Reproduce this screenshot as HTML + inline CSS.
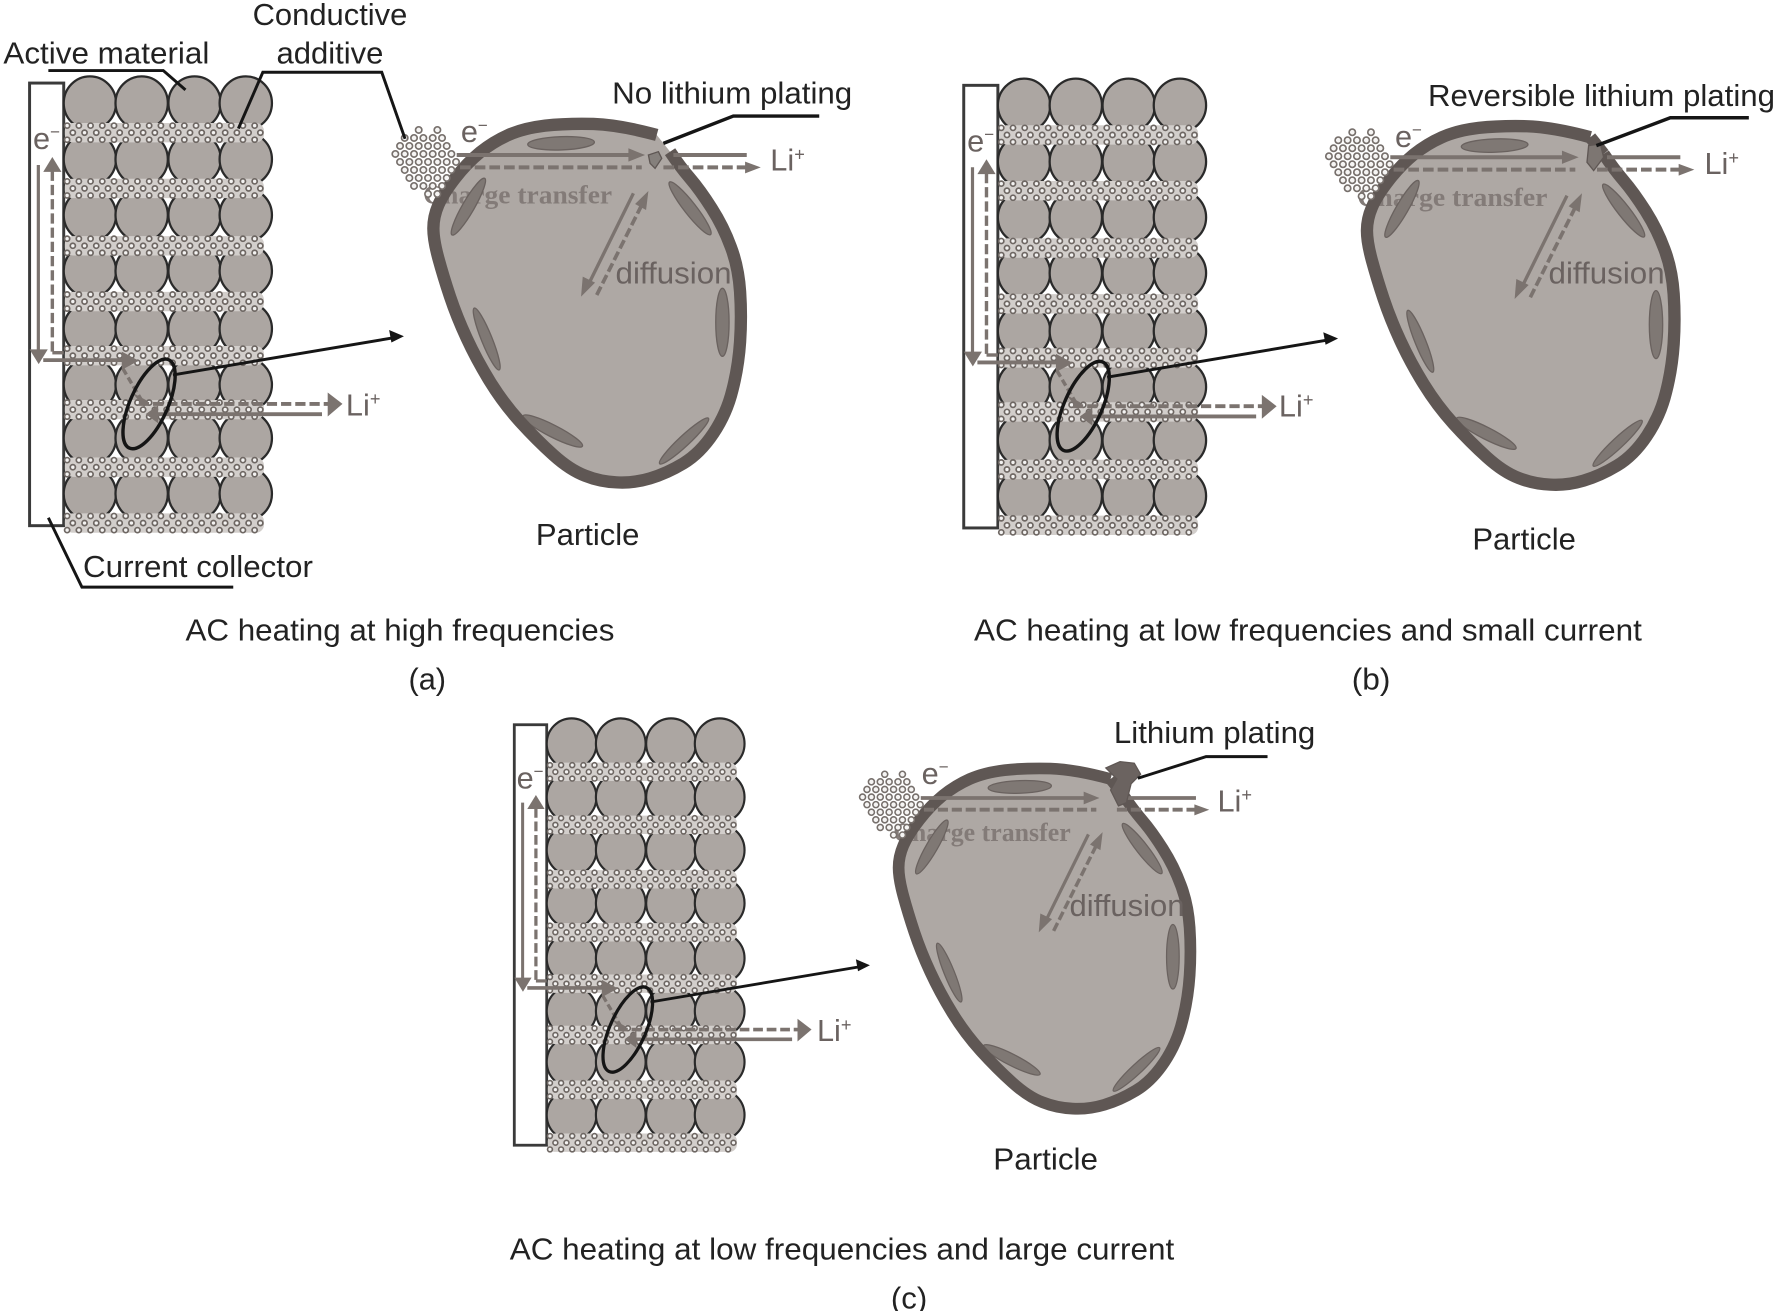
<!DOCTYPE html>
<html><head><meta charset="utf-8"><style>
html,body{margin:0;padding:0;background:#fff}
svg{display:block}
text{font-family:"Liberation Sans",sans-serif;font-size:27px}
.k{fill:#222}
.g{fill:#6a6260}
.ch{font-family:"Liberation Serif",serif;font-weight:bold;font-size:23px;fill:#837b78}
</style></head><body>
<svg width="1775" height="1311" viewBox="0 0 1560 1152.2" xmlns="http://www.w3.org/2000/svg">
<defs>
<g id="row" fill="#aca6a2" stroke="#2a2a2a" stroke-width="2">
<ellipse cx="79" cy="0" rx="23" ry="23.5"/><ellipse cx="124.5" cy="0" rx="23" ry="23.5"/><ellipse cx="171" cy="0" rx="23" ry="23.5"/><ellipse cx="216" cy="0" rx="23" ry="23.5"/>
</g>
<g id="dr" fill="none" stroke-linecap="round">
<rect x="57" y="-8.5" width="175" height="17" rx="7" fill="#d2cecb" stroke="none"/>
<g stroke="#6e6763" stroke-width="6" stroke-dasharray="0 10.3">
<path d="M59 -6.2H232"/><path d="M64 0H232"/><path d="M59 6.2H232"/>
</g>
<g stroke="#f4f3f2" stroke-width="3" stroke-dasharray="0 10.3">
<path d="M59 -6.2H232"/><path d="M64 0H232"/><path d="M59 6.2H232"/>
</g>
</g>
<g id="stack">
<rect x="26" y="73" width="30" height="389" fill="#fff" stroke="#3a3a3a" stroke-width="2.6"/>
<use href="#row" y="90.6"/><use href="#row" y="140"/><use href="#row" y="189"/><use href="#row" y="238"/><use href="#row" y="289"/><use href="#row" y="338"/><use href="#row" y="385"/><use href="#row" y="434"/>
<use href="#dr" y="116.6"/><use href="#dr" y="165.6"/><use href="#dr" y="216"/><use href="#dr" y="265"/><use href="#dr" y="312.6"/><use href="#dr" y="360"/><use href="#dr" y="410.6"/><use href="#dr" y="459.7"/>
<g fill="none" stroke="#7b736f">
<path d="M33.7 145V312" stroke-width="2.8"/>
<path d="M46 309V146" stroke-width="3" stroke-dasharray="9 3.5"/>
<path d="M46 310H56" stroke-width="3"/>
<path d="M38 316.5H112" stroke-width="3.4"/>
<path d="M108 324L124 351" stroke-width="3" stroke-dasharray="6 3"/>
<path d="M122 355H290" stroke-width="3.4" stroke-dasharray="9 3.5"/>
<path d="M136 364H283" stroke-width="3.4"/>
</g>
<g fill="#7b736f">
<polygon points="26,307 42,307 34,320"/>
<polygon points="38,151 54,151 46,138"/>
<polygon points="107,309 122,317 107,325"/>
<polygon points="116,345 129,352 127,358"/>
<polygon points="288,345 301,355 288,366"/>
<polygon points="139,356 128,364 139,372"/>
</g>
<ellipse cx="131" cy="355" rx="42.5" ry="16.5" transform="rotate(-66 131 355)" fill="none" stroke="#151515" stroke-width="3"/>
<path d="M152 329.5L345 297" stroke="#151515" stroke-width="2.6"/>
<polygon points="355,295.5 342,290 344,301" fill="#151515"/>
</g>
<path id="pf" fill="#aea8a4" d="M830 225Q720 195 640 192Q560 190 495 197Q430 205 385 225Q340 245 300 277Q260 310 225 355Q190 400 175 435Q160 470 160 505Q160 540 175 595Q190 650 210 710Q230 770 260 835Q290 900 330 965Q370 1030 420 1085Q470 1140 520 1185Q570 1230 615 1247Q660 1265 710 1267Q760 1270 810 1255Q860 1240 910 1210Q960 1180 1000 1120Q1040 1060 1057 990Q1075 920 1080 845Q1085 770 1080 695Q1075 620 1052 560Q1030 500 995 445Q960 390 930 355Q900 320 870 275Z"/>
<path id="ps" fill="none" stroke="#5f5754" stroke-width="37" d="M830 225Q720 195 640 192Q560 190 495 197Q430 205 385 225Q340 245 300 277Q260 310 225 355Q190 400 175 435Q160 470 160 505Q160 540 175 595Q190 650 210 710Q230 770 260 835Q290 900 330 965Q370 1030 420 1085Q470 1140 520 1185Q570 1230 615 1247Q660 1265 710 1267Q760 1270 810 1255Q860 1240 910 1210Q960 1180 1000 1120Q1040 1060 1057 990Q1075 920 1080 845Q1085 770 1080 695Q1075 620 1052 560Q1030 500 995 445Q960 390 930 355Q900 320 870 275"/>
<g id="pe" fill="#7f7874" stroke="#6a625f" stroke-width="4">
<ellipse cx="543" cy="250" rx="100" ry="20" transform="rotate(-2 543 250)"/>
<ellipse cx="265" cy="440" rx="98" ry="18" transform="rotate(-60 265 440)"/>
<ellipse cx="930" cy="445" rx="100" ry="18" transform="rotate(52 930 445)"/>
<ellipse cx="1027" cy="787" rx="102" ry="20" transform="rotate(90 1027 787)"/>
<ellipse cx="320" cy="837" rx="100" ry="16" transform="rotate(68 320 837)"/>
<ellipse cx="518" cy="1113" rx="100" ry="18" transform="rotate(27 518 1113)"/>
<ellipse cx="912" cy="1143" rx="100" ry="16" transform="rotate(-43 912 1143)"/>
</g>
<g id="pa">
<g fill="none" stroke="#7b736f">
<path d="M230 285H760" stroke-width="12"/>
<path d="M240 322H785" stroke-width="12" stroke-dasharray="32 12"/>
<path d="M880 285H1100" stroke-width="12"/>
<path d="M850 322H1105" stroke-width="12" stroke-dasharray="32 12"/>
<path d="M760 400L622 680" stroke-width="10"/>
<path d="M650 705L790 425" stroke-width="11" stroke-dasharray="28 11"/>
</g>
<g fill="#7b736f">
<polygon points="745,265 795,285 745,305"/>
<polygon points="1095,305 1142,322 1095,340"/>
<polygon points="603,710 608,650 645,668"/>
<polygon points="805,393 798,450 765,432"/>
</g>
</g>
<path id="cl" d="M116 210h.01M172 210h.01M74 234h.01M102 234h.01M130 234h.01M158 234h.01M186 234h.01M60 258h.01M88 258h.01M116 258h.01M144 258h.01M172 258h.01M200 258h.01M46 282h.01M74 282h.01M102 282h.01M130 282h.01M158 282h.01M186 282h.01M214 282h.01M60 306h.01M88 306h.01M116 306h.01M144 306h.01M172 306h.01M200 306h.01M228 306h.01M74 330h.01M102 330h.01M130 330h.01M158 330h.01M186 330h.01M214 330h.01M88 354h.01M116 354h.01M144 354h.01M172 354h.01M200 354h.01M102 378h.01M130 378h.01M158 378h.01M186 378h.01M144 402h.01M172 402h.01"/>
<g id="clus" fill="none" stroke-linecap="round">
<use href="#cl" stroke="#77706c" stroke-width="24"/>
<use href="#cl" stroke="#f6f5f4" stroke-width="14"/>
</g>
</defs>
<rect width="1560" height="1152.2" fill="#fff"/>

<!-- panel a -->
<use href="#stack"/>
<g transform="translate(334 52.7) scale(.293)"><use href="#pf"/></g>
<text class="ch" x="372" y="179" textLength="166" lengthAdjust="spacingAndGlyphs">Charge transfer</text>
<g transform="translate(334 52.7) scale(.293)">
<use href="#pe"/><use href="#ps"/><use href="#pa"/><use href="#clus"/>
<polygon points="805,285 835,275 845,295 825,325 810,310" fill="#85807c" stroke="#5f5754" stroke-width="4"/>
</g>
<text class="k" x="3" y="56" textLength="181" lengthAdjust="spacingAndGlyphs">Active material</text>
<text class="k" x="222" y="22" textLength="136" lengthAdjust="spacingAndGlyphs">Conductive</text>
<text class="k" x="243" y="56" textLength="94" lengthAdjust="spacingAndGlyphs">additive</text>
<text class="k" x="73" y="507" textLength="202" lengthAdjust="spacingAndGlyphs">Current collector</text>
<text class="k" x="538" y="91" textLength="211" lengthAdjust="spacingAndGlyphs">No lithium plating</text>
<text class="k" x="471" y="479" textLength="91" lengthAdjust="spacingAndGlyphs">Particle</text>
<text class="k" x="163" y="563" textLength="377" lengthAdjust="spacingAndGlyphs">AC heating at high frequencies</text>
<text class="k" x="359" y="606" textLength="33" lengthAdjust="spacingAndGlyphs">(a)</text>
<g fill="none" stroke="#151515" stroke-width="2.6">
<path d="M42.5 62H143.5L163 79"/>
<path d="M209.5 113L231 63.5H335.5L356 122"/>
<path d="M42.5 455L72 516H205"/>
<path d="M583 126L644.5 102H720" stroke-width="3"/>
</g>
<text class="g" x="29" y="131">e<tspan font-size="15" dy="-10">−</tspan></text>
<text class="g" x="405" y="125">e<tspan font-size="15" dy="-10">−</tspan></text>
<text class="g" x="677" y="150">Li<tspan font-size="16" dy="-9">+</tspan></text>
<text class="g" x="304" y="365">Li<tspan font-size="16" dy="-9">+</tspan></text>
<text class="g" x="541" y="249" textLength="102" lengthAdjust="spacingAndGlyphs">diffusion</text>

<!-- panel b -->
<g transform="translate(821 2)"><use href="#stack"/></g>
<g transform="translate(1154.5 54.7) scale(.293)"><use href="#pf"/></g>
<text class="ch" x="1193" y="181" textLength="167" lengthAdjust="spacingAndGlyphs">Charge transfer</text>
<g transform="translate(1154.5 54.7) scale(.293)">
<use href="#pe"/><use href="#ps"/><path d="M830 225L870 275" stroke="#5f5754" stroke-width="37"/><use href="#pa"/><use href="#clus"/>
<polygon points="825,250 860,245 870,285 840,325 820,300" fill="#7d7672" stroke="#5f5754" stroke-width="4"/>
</g>
<text class="k" x="1255" y="93" textLength="305" lengthAdjust="spacingAndGlyphs">Reversible lithium plating</text>
<text class="k" x="1294" y="483" textLength="91" lengthAdjust="spacingAndGlyphs">Particle</text>
<text class="k" x="856" y="563" textLength="587" lengthAdjust="spacingAndGlyphs">AC heating at low frequencies and small current</text>
<text class="k" x="1188" y="606" textLength="34" lengthAdjust="spacingAndGlyphs">(b)</text>
<path d="M1403 128L1468 103.5H1537" fill="none" stroke="#151515" stroke-width="3"/>
<text class="g" x="850" y="133">e<tspan font-size="15" dy="-10">−</tspan></text>
<text class="g" x="1226" y="129">e<tspan font-size="15" dy="-10">−</tspan></text>
<text class="g" x="1498" y="153">Li<tspan font-size="16" dy="-9">+</tspan></text>
<text class="g" x="1124" y="366">Li<tspan font-size="16" dy="-9">+</tspan></text>
<text class="g" x="1361" y="249" textLength="102" lengthAdjust="spacingAndGlyphs">diffusion</text>

<!-- panel c -->
<g transform="translate(427.3 567.6) scale(.95)"><use href="#stack"/></g>
<g transform="translate(745.3 622.1) scale(.278)"><use href="#pf"/></g>
<text class="ch" x="785" y="739" textLength="156" lengthAdjust="spacingAndGlyphs">Charge transfer</text>
<g transform="translate(745.3 622.1) scale(.278)">
<use href="#pe"/><use href="#ps"/><path d="M830 225L870 275" stroke="#5f5754" stroke-width="37"/><use href="#pa"/><use href="#clus"/>
<polygon points="815,190 860,170 905,175 925,210 895,240 880,300 855,310 830,260 850,225" fill="#6b6360" stroke="#5f5754" stroke-width="4"/>
</g>
<text class="k" x="979" y="653" textLength="177" lengthAdjust="spacingAndGlyphs">Lithium plating</text>
<text class="k" x="873" y="1028" textLength="92" lengthAdjust="spacingAndGlyphs">Particle</text>
<text class="k" x="448" y="1107" textLength="584" lengthAdjust="spacingAndGlyphs">AC heating at low frequencies and large current</text>
<text class="k" x="783" y="1150" textLength="32" lengthAdjust="spacingAndGlyphs">(c)</text>
<path d="M1000 684L1060 665H1114" fill="none" stroke="#151515" stroke-width="2.6"/>
<text class="g" x="454" y="693">e<tspan font-size="15" dy="-10">−</tspan></text>
<text class="g" x="810" y="689">e<tspan font-size="15" dy="-10">−</tspan></text>
<text class="g" x="1070" y="713">Li<tspan font-size="16" dy="-9">+</tspan></text>
<text class="g" x="718" y="915">Li<tspan font-size="16" dy="-9">+</tspan></text>
<text class="g" x="940" y="805" textLength="101" lengthAdjust="spacingAndGlyphs">diffusion</text>
</svg>
</body></html>
